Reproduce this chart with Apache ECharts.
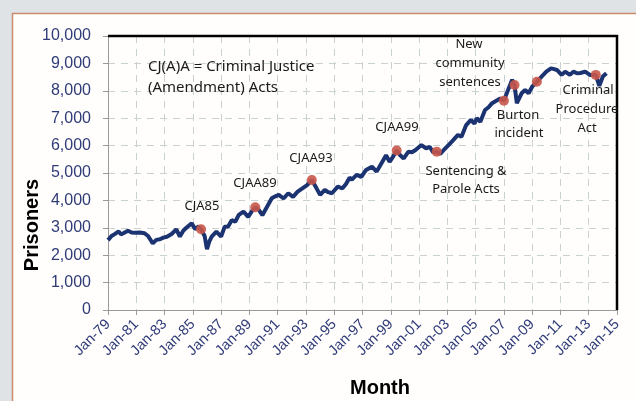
<!DOCTYPE html>
<html>
<head>
<meta charset="utf-8">
<script src="https://cdn.jsdelivr.net/npm/echarts@6/dist/echarts.min.js"></script>
<style>
  html, body { margin: 0; padding: 0; background: #dfe3e6; }
  #chart { width: 636px; height: 401px; }
</style>
</head>
<body>
<div id="chart"></div>
<script>
// monthly prison population
var months = [
  '1979-01','1979-04','1979-07','1979-10','1979-12','1980-02','1980-06','1980-09','1980-12',
  '1981-04','1981-08','1981-11','1982-03','1982-06','1982-09','1982-12','1983-03','1983-07',
  '1983-11','1984-02','1984-05','1984-08','1984-12','1985-03','1985-06','1985-08','1985-11',
  '1986-01','1986-03','1986-05','1986-09','1987-01','1987-04','1987-07','1987-10','1988-01',
  '1988-04','1988-08','1988-12','1989-03','1989-06','1989-09','1989-12','1990-04','1990-08',
  '1990-11','1991-02','1991-06','1991-10','1992-02','1992-06','1992-10','1993-02','1993-06',
  '1993-10','1994-01','1994-05','1994-08','1994-11','1995-04','1995-08','1995-11','1996-02',
  '1996-04','1996-08','1996-12','1997-04','1997-09','1998-01','1998-05','1998-09','1998-12',
  '1999-03','1999-06','1999-09','1999-12','2000-04','2000-07','2000-10','2001-03','2001-07',
  '2001-10','2002-01','2002-04','2002-07','2002-10','2003-02','2003-06','2003-10','2004-01',
  '2004-05','2004-09','2004-12','2005-02','2005-05','2005-09','2005-12','2006-03','2006-08',
  '2006-10','2007-01','2007-04','2007-08','2007-10','2007-12','2008-04','2008-07','2008-10',
  '2009-01','2009-05','2009-09','2010-01','2010-05','2010-07','2010-10','2011-02','2011-05',
  '2011-09','2011-12','2012-03','2012-06','2012-10','2013-02','2013-07','2013-10','2014-01',
  '2014-04'
];
var prisoners = [
  2550, 2700, 2780, 2870, 2760, 2800, 2895, 2830, 2820,
  2830, 2800, 2700, 2430, 2560, 2580, 2640, 2675, 2775,
  2945, 2680, 2900, 3020, 3160, 2950, 3050, 2945, 2700,
  2220, 2500, 2680, 2860, 2680, 3040, 3050, 3280, 3220,
  3470, 3590, 3400, 3600, 3750, 3650, 3460, 3770, 4080,
  4150, 4200, 4070, 4260, 4130, 4320, 4440, 4560, 4745,
  4440, 4200, 4380, 4300, 4260, 4500, 4440, 4600, 4830,
  4760, 4930, 4860, 5110, 5230, 5050, 5350, 5650, 5410,
  5600, 5820, 5650, 5530, 5780, 5760, 5840, 6020, 5900,
  5960, 5750, 5780, 5700, 5840, 6020, 6200, 6390, 6320,
  6750, 6940, 6800, 7000, 6870, 7300, 7400, 7550, 7670,
  7720, 7640, 7970, 8400, 8210, 7550, 7910, 8030, 7910,
  8150, 8330, 8520, 8700, 8820, 8800, 8760, 8580, 8700,
  8580, 8700, 8640, 8650, 8700, 8580, 8580, 8180, 8520,
  8640
];
// months with a red marker
var eventMonths = ['1985-08','1989-06','1993-06','1999-06','2002-04','2007-01','2007-10','2009-05','2013-07'];

var xMin = 0, xMax = 432, yMin = 0, yMax = 10000;

function monthIndex(s) {
  var p = s.split('-');
  return (parseInt(p[0], 10) - 1979) * 12 + parseInt(p[1], 10) - 1;
}

var lineData = months.map(function (m, i) { return [monthIndex(m), prisoners[i]]; });
var dotData = eventMonths.map(function (m) { return [monthIndex(m), prisoners[months.indexOf(m)]]; });

var axisBlue = '#2f3b78';
var noteFont = '13px "Noto Sans"';

function note(text, x, y, font) {
  return {
    type: 'text', x: x, y: y, z: 50,
    style: { text: text, font: font || noteFont, fill: '#1a1a1a', align: 'center', verticalAlign: 'middle' }
  };
}

var dom = echarts.init(document.getElementById('chart'));
var option = {
  backgroundColor: 'transparent',
  animation: false,
  grid: { left: 108, right: 19, top: 36, bottom: 91, containLabel: false },
  xAxis: {
    type: 'value', min: xMin, max: xMax, interval: 24,
    axisLine: { show: true, onZero: false, lineStyle: { color: '#9a9a9a', width: 1 } },
    axisTick: { show: true, length: 5, lineStyle: { color: '#9a9a9a' } },
    axisLabel: {
      rotate: 45, color: axisBlue, fontSize: 14.5, fontFamily: 'Liberation Sans', margin: 12,
      formatter: function (v) { return 'Jan-' + String((79 + v / 12) % 100).padStart(2, '0'); }
    },
    splitLine: { show: true, lineStyle: { color: '#c9d1d1', type: [7, 6], width: 1 } }
  },
  yAxis: {
    type: 'value', min: yMin, max: yMax, interval: 1000,
    axisLine: { show: true, onZero: false, lineStyle: { color: '#9a9a9a', width: 1 } },
    axisTick: { show: true, length: 5, lineStyle: { color: '#9a9a9a' } },
    axisLabel: {
      color: axisBlue, fontSize: 16, fontFamily: 'Liberation Sans', margin: 17,
      formatter: function (v) { return v.toLocaleString('en-US'); }
    },
    splitLine: { show: true, lineStyle: { color: '#c9d1d1', type: [7, 6], width: 1 } }
  },
  series: [
    {
      name: 'Prisoners', type: 'line', data: lineData, showSymbol: false, smooth: false,
      lineStyle: { color: '#1c3372', width: 4 }, z: 3
    },
    {
      name: 'Events', type: 'scatter', data: dotData, symbolSize: 10,
      itemStyle: { color: '#c9564a', opacity: 0.9 }, z: 4
    }
  ],
  graphic: [
    {
      type: 'rect', z: -10,
      shape: { x: 12.5, y: 13.5, width: 640, height: 400 },
      style: { fill: '#fffefc', stroke: '#c98b70', lineWidth: 1.5 }
    },
    {
      type: 'text', x: 32, y: 225, rotation: Math.PI / 2, z: 50,
      style: { text: 'Prisoners', font: 'bold 20px "Liberation Sans"', fill: '#000', align: 'center', verticalAlign: 'middle' }
    },
    {
      type: 'text', x: 380, y: 388, z: 50,
      style: { text: 'Month', font: 'bold 20px "Liberation Sans"', fill: '#000', align: 'center', verticalAlign: 'middle' }
    },
    {
      type: 'text', x: 148, y: 67, z: 50,
      style: { text: 'CJ(A)A = Criminal Justice', font: '15px "Noto Sans"', fill: '#1a1a1a', align: 'left', verticalAlign: 'middle' }
    },
    {
      type: 'text', x: 148, y: 88, z: 50,
      style: { text: '(Amendment) Acts', font: '15px "Noto Sans"', fill: '#1a1a1a', align: 'left', verticalAlign: 'middle' }
    },
    note('CJA85', 202, 206),
    note('CJAA89', 255, 183),
    note('CJAA93', 311, 158),
    note('CJAA99', 397, 127),
    note('Sentencing &', 466, 171),
    note('Parole Acts', 466, 189),
    note('New', 469, 44),
    note('community', 470, 63),
    note('sentences', 470, 82),
    note('Burton', 518, 115),
    note('incident', 519, 133),
    note('Criminal', 588, 90),
    note('Procedure', 587, 109),
    note('Act', 587, 128)
  ]
};
dom.setOption(option);

// black frame on the top and right of the plot, placed from the axis scales
var tl = dom.convertToPixel({ gridIndex: 0 }, [xMin, yMax]);
var tr = dom.convertToPixel({ gridIndex: 0 }, [xMax, yMax]);
var br = dom.convertToPixel({ gridIndex: 0 }, [xMax, yMin]);
option.graphic.push({
  type: 'polyline', z: 40,
  shape: { points: [[tl[0], tl[1]], [tr[0], tr[1]], [br[0], br[1]]] },
  style: { stroke: '#000', lineWidth: 2.5, fill: null }
});
dom.setOption({ graphic: option.graphic });

window.addEventListener('resize', function () { dom.resize(); });
</script>
</body>
</html>
